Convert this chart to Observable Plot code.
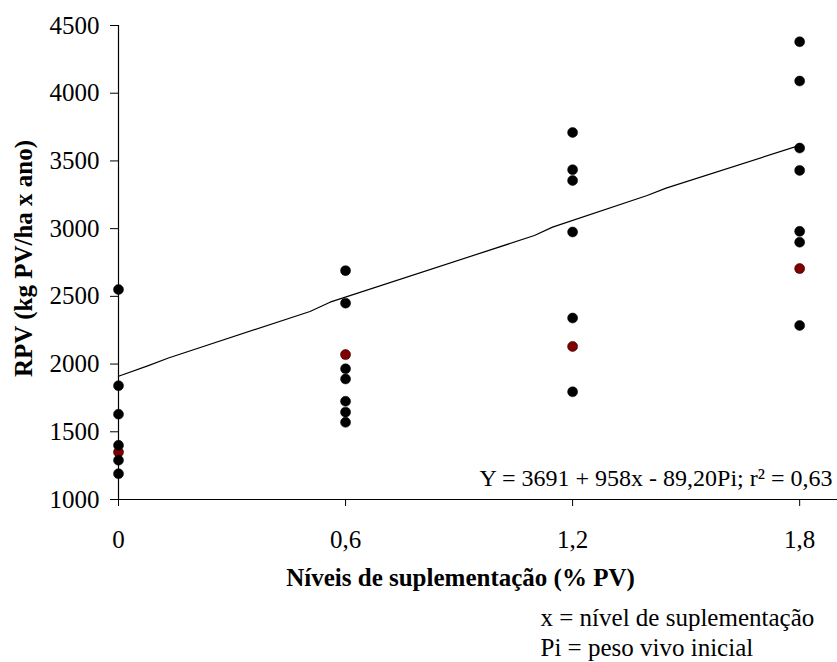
<!DOCTYPE html>
<html>
<head>
<meta charset="utf-8">
<script src="https://cdn.jsdelivr.net/npm/d3@7"></script>
<script src="https://cdn.jsdelivr.net/npm/@observablehq/plot@0.6"></script>
<style>
  html, body { margin: 0; padding: 0; background: #fff; }
  #chart { width: 837px; height: 662px; }
  #chart svg text { font-family: 'Liberation Serif', 'Times New Roman', serif; }
</style>
</head>
<body>
<div id="chart"></div>
<script>
// Supplementation levels (% PV)
const levels = [0, 0.6, 1.2, 1.8];
const levelTickLabels = ["0", "0,6", "1,2", "1,8"];
const rpvTicks = [1000, 1500, 2000, 2500, 3000, 3500, 4000, 4500];

// Observed RPV (kg PV/ha x ano), black points, per level
const rpvAt0  = [2550, 1840, 1630, 1400, 1290, 1190];
const rpvAt06 = [2690, 2450, 1965, 1890, 1725, 1645, 1570];
const rpvAt12 = [3710, 3435, 3355, 2975, 2340, 1795];
const rpvAt18 = [4380, 4090, 3595, 3430, 2980, 2900, 2285];
// Dark red points, one per level
const rpvHighlighted = [1350, 2070, 2130, 2705];

// Fitted line (read vertices)
const fitX = [0, 0.079, 0.132, 0.506, 0.559, 1.099, 1.147, 1.397, 1.447, 1.8];
const fitY = [1910, 1989, 2045, 2388, 2457, 2949, 3011, 3245, 3299, 3615];

const equation = "Y = 3691 + 958x - 89,20Pi; r² = 0,63";
const xTitle = "Níveis de suplementação (% PV)";
const yTitle = "RPV (kg PV/ha x ano)";
const note1 = "x = nível de suplementação";
const note2 = "Pi = peso vivo inicial";

const blackPts = [rpvAt0, rpvAt06, rpvAt12, rpvAt18].flatMap((arr, i) => arr.map(v => ({x: levels[i], y: v})));
const redPts = rpvHighlighted.map((v, i) => ({x: levels[i], y: v}));
const fit = fitX.map((x, i) => ({x, y: fitY[i]}));

const font = "'Liberation Serif', 'Times New Roman', serif";

const chart = Plot.plot({
  width: 837,
  height: 662,
  marginLeft: 118,
  marginRight: 0,
  marginTop: 25,
  marginBottom: 163,
  style: {fontFamily: font, fontSize: "25px", color: "black", background: "white"},
  x: {domain: [0, 1.9]},
  y: {domain: [1000, 4500]},
  marks: [
    Plot.axisY({ticks: rpvTicks, tickSize: 8, tickPadding: 11, label: null, fontSize: 25, fontFamily: font, tickFormat: d => String(d)}),
    Plot.axisX({ticks: levels, tickSize: 7, tickPadding: 24, label: null, fontSize: 25, fontFamily: font,
      tickFormat: d => levelTickLabels[levels.indexOf(d)]}),
    Plot.ruleY([1000], {x1: 0, x2: 1.9, stroke: "black", strokeWidth: 1.2}),
    Plot.ruleX([0], {y1: 1000, y2: 4500, stroke: "black", strokeWidth: 1.2}),
    Plot.line(fit, {x: "x", y: "y", stroke: "black", strokeWidth: 1.2}),
    Plot.dot(redPts, {x: "x", y: "y", r: 5, fill: "#800000", stroke: "#2a0000", strokeWidth: 0.6}),
    Plot.dot(blackPts, {x: "x", y: "y", r: 5, fill: "black", stroke: "black", strokeWidth: 0.5}),
    Plot.text([equation], {frameAnchor: "bottom-right", textAnchor: "end", lineAnchor: "bottom", dx: -5, dy: -14, fontSize: 24, fontFamily: font, fill: "black"}),
    Plot.text([xTitle], {frameAnchor: "bottom-left", textAnchor: "middle", lineAnchor: "bottom", dx: 460 - 118, dy: 86, fontSize: 25, fontFamily: font, fontWeight: "bold", fill: "black"}),
    Plot.text([yTitle], {frameAnchor: "left", textAnchor: "middle", lineAnchor: "middle", rotate: -90, dx: -95, dy: -4, fontSize: 25, fontFamily: font, fontWeight: "bold", fill: "black"}),
    Plot.text([note1], {frameAnchor: "bottom-left", textAnchor: "start", lineAnchor: "bottom", dx: 540 - 118, dy: 126, fontSize: 25, fontFamily: font, fill: "black"}),
    Plot.text([note2], {frameAnchor: "bottom-left", textAnchor: "start", lineAnchor: "bottom", dx: 540 - 118, dy: 156, fontSize: 25, fontFamily: font, fill: "black"})
  ]
});
document.getElementById("chart").appendChild(chart);
</script>
</body>
</html>
